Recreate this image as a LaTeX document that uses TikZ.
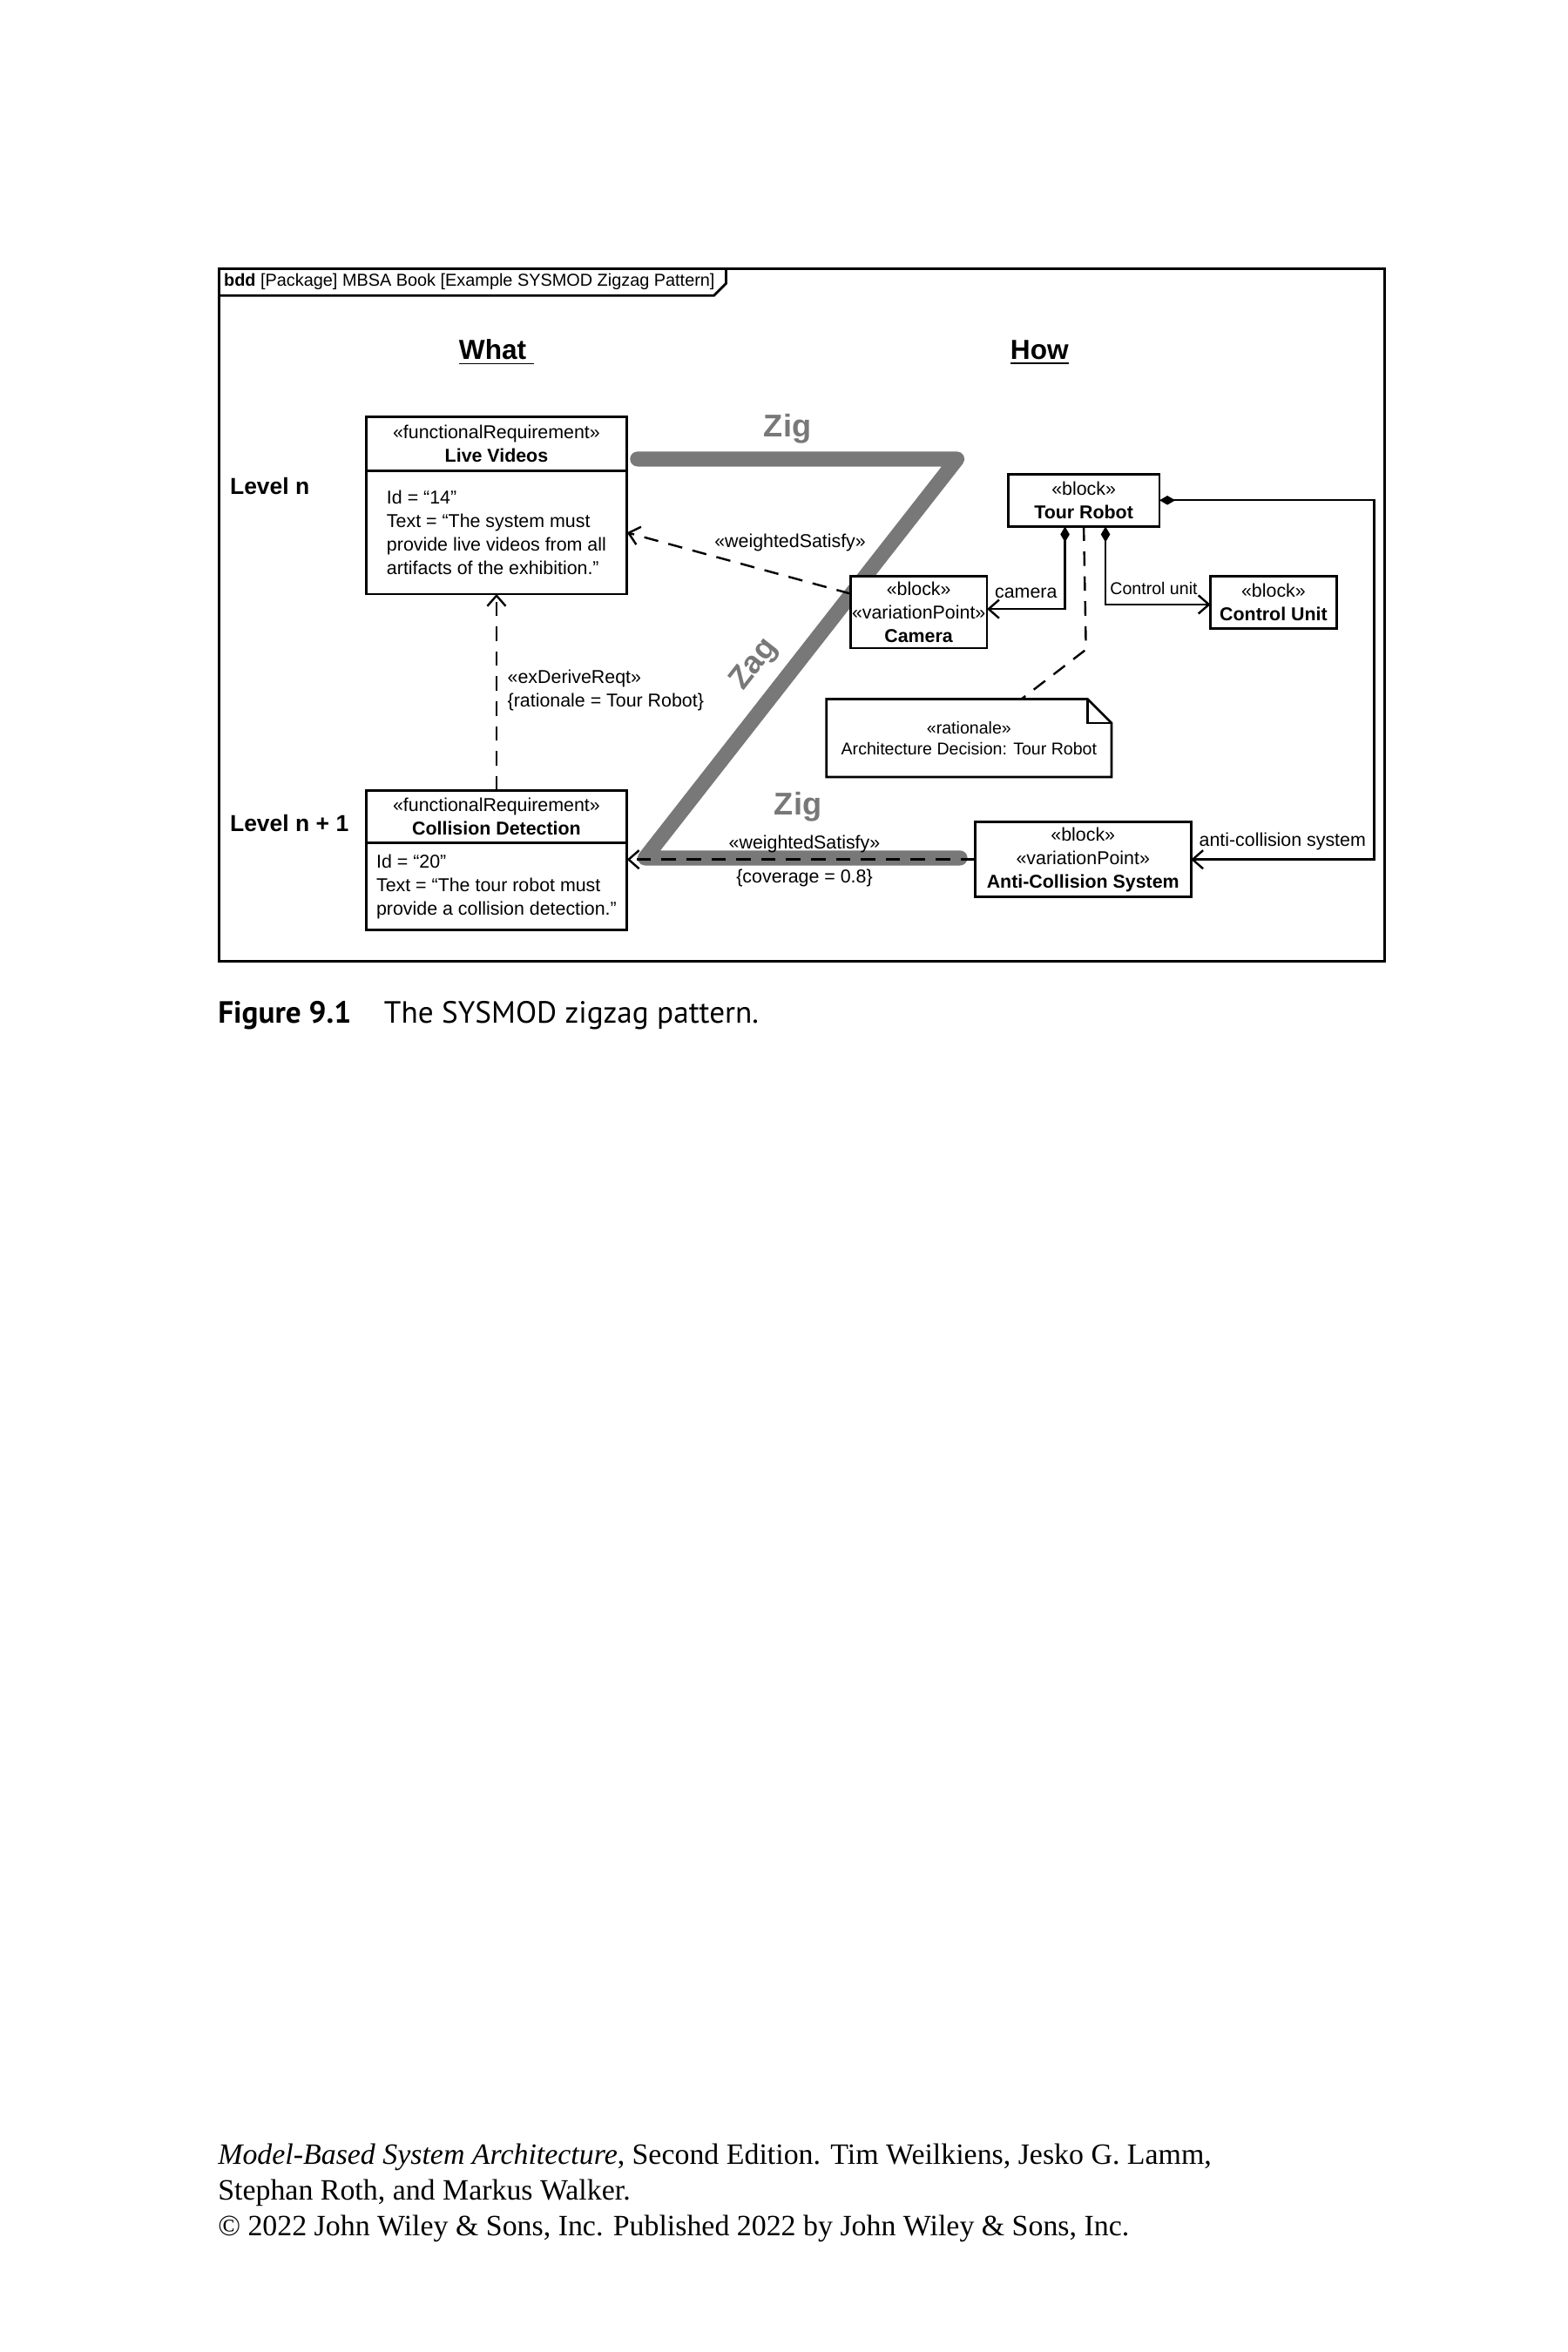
\documentclass[tikz,border=0pt]{standalone}
\usepackage{fontspec}
\setmainfont{Liberation Sans}
\newfontfamily\captionfont{PT Sans}
\newfontfamily\footerfont{Liberation Serif}
\usepackage{tikz}
\usetikzlibrary{arrows.meta,positioning}
\definecolor{zzgray}{RGB}{120,120,120}
\newlength\upx
\setlength\upx{0.020096cm}

\begin{document}
\begin{tikzpicture}[
    x=0.020096cm, y=-0.020096cm,
    every node/.style={font=\fontsize{7.1}{8.9}\selectfont},
    umlbox/.style={rectangle, draw, fill=white, line width=0.9pt, align=center, inner sep=0pt, outer sep=0pt},
    reqbody/.style={umlbox, align=left},
    satisfy/.style={-{Straight Barb[length=4pt,width=7pt]}, line width=0.8pt, dash pattern=on 5.5pt off 4pt},
    compose/.style={{Diamond[length=6pt,width=3.5pt]}-{Straight Barb[length=4pt,width=7pt]}, line width=0.8pt},
    anchorline/.style={line width=0.8pt, dash pattern=on 5.5pt off 4pt},
    zigzag/.style={draw=zzgray, line width=5.7pt, line cap=round, line join=round},
    ziglabel/.style={text=zzgray, font=\fontsize{12}{14}\selectfont\bfseries},
    level/.style={anchor=west, inner sep=0pt, font=\fontsize{8.8}{10}\selectfont\bfseries},
    heading/.style={font=\fontsize{10.5}{12}\selectfont\bfseries}
]
    \fill[white] (0,0) rectangle (1045,1568);

    \draw[line width=0.9pt] (146,179) rectangle (923,641);
    \node[anchor=west, inner sep=0pt, font=\fontsize{6.6}{8}\selectfont] (tab) at (149,188) {\textbf{bdd} [Package] MBSA Book [Example SYSMOD Zigzag Pattern]};
    \draw[line width=0.9pt] (146,197) -- (476,197) -- (484,189) -- (484,179);

    \node[heading] (what) at (331,235) {\underline{What~}};
    \node[heading] (how) at (693,235) {\underline{How}};
    \node[level] (levelN) at (153,324) {Level n};
    \node[level] (levelN1) at (153,549) {Level n + 1};

    \coordinate (zigA) at (425,306);
    \coordinate (zigB) at (638,306);
    \coordinate (zagB) at (430,572);
    \coordinate (zigC) at (640,572);
    \draw[zigzag] (zigA) -- (zigB) -- (zagB) -- (zigC);
    \node[ziglabel] (zigTop) at (525,286) {Zig};
    \node[ziglabel, rotate=52] (zagMid) at (503,443) {Zag};
    \node[ziglabel] (zigBottom) at (532,538) {Zig};

    \node[umlbox, minimum width=174\upx, minimum height=36\upx] (lvHead) at (331,296) {«functionalRequirement»\\\textbf{Live Videos}};
    \node[reqbody, minimum width=174\upx, minimum height=82\upx, below=0pt of lvHead] (lvBody) {Id = “14”\\Text = “The system must\\provide live videos from all\\artifacts of the exhibition.”};
    \node[umlbox, minimum width=174\upx, minimum height=35\upx] (cdHead) at (331,544.5) {«functionalRequirement»\\\textbf{Collision Detection}};
    \node[reqbody, minimum width=174\upx, minimum height=58\upx, below=0pt of cdHead] (cdBody) {Id = “20”\\Text = “The tour robot must\\provide a collision detection.”};

    \node[umlbox, minimum width=91\upx, minimum height=48\upx] (camera) at (612.5,408) {«block»\\«variationPoint»\\\textbf{Camera}};
    \node[umlbox, minimum width=101\upx, minimum height=35\upx] (tourRobot) at (722.5,333.5) {«block»\\\textbf{Tour Robot}};
    \node[umlbox, minimum width=84\upx, minimum height=35\upx] (controlUnit) at (849,401.5) {«block»\\\textbf{Control Unit}};
    \node[umlbox, minimum width=144\upx, minimum height=50\upx] (antiCollision) at (722,573) {«block»\\«variationPoint»\\\textbf{Anti-Collision System}};

    \node[fill=white, minimum width=190\upx, minimum height=52\upx, inner sep=0pt, outer sep=0pt, align=center, font=\fontsize{6.5}{8}\selectfont] (note) at (646,492) {«rationale»\\Architecture Decision: Tour Robot};
    \draw[line width=0.9pt] (note.north west) -- ([xshift=-16\upx]note.north east) -- ([yshift=-16\upx]note.north east) -- (note.south east) -- (note.south west) -- cycle;
    \draw[line width=0.9pt] ([xshift=-16\upx]note.north east) |- ([yshift=-16\upx]note.north east);

    \draw[satisfy] (camera.165) -- node[pos=0.27, above=6pt] (wsTop) {«weightedSatisfy»} (lvBody.east);
    \draw[satisfy] (cdHead.north) -- node[pos=0.51, right=0.5pt, align=left] (derive) {«exDeriveReqt»\\\{rationale = Tour Robot\}} (lvBody.south);
    \draw[satisfy] (antiCollision.west) -- node[pos=0.49, above=-1pt] (wsBottom) {«weightedSatisfy»} node[pos=0.49, below=0pt] (coverage) {\{coverage = 0.8\}} (antiCollision.west -| cdBody.east);

    \draw[compose] ([xshift=-12.5\upx]tourRobot.south) |- node[pos=0.75, above=0.5pt] {camera} ([yshift=2\upx]camera.east);
    \draw[compose] ([xshift=14.5\upx]tourRobot.south) |- node[pos=0.73, above=0pt, font=\fontsize{6.5}{8}\selectfont] {Control unit} ([yshift=-1.5\upx]controlUnit.west);
    \coordinate (acRoute) at (916,450);
    \draw[compose] (tourRobot.east) -- (tourRobot.east -| acRoute) -- (antiCollision.east -| acRoute) -- node[above=0pt] {anti-collision system} (antiCollision.east);

    \coordinate (ratBend) at (724,433);
    \draw[anchorline] (tourRobot.south) -- (ratBend) -- ([xshift=35\upx]note.north);

    \node[anchor=west, inner sep=0pt, font=\captionfont\fontsize{11.7}{14}\selectfont] (caption) at (145,677) {\textbf{Figure 9.1}\hspace{12.5pt}The SYSMOD zigzag pattern.};
    \node[anchor=west, inner sep=0pt, align=left, font=\footerfont\fontsize{11.25}{13.7}\selectfont] (footer) at (145,1462) {\textit{Model-Based System Architecture}, Second Edition. Tim Weilkiens, Jesko G. Lamm,\\Stephan Roth, and Markus Walker.\\© 2022 John Wiley \& Sons, Inc. Published 2022 by John Wiley \& Sons, Inc.};
\end{tikzpicture}
\end{document}
